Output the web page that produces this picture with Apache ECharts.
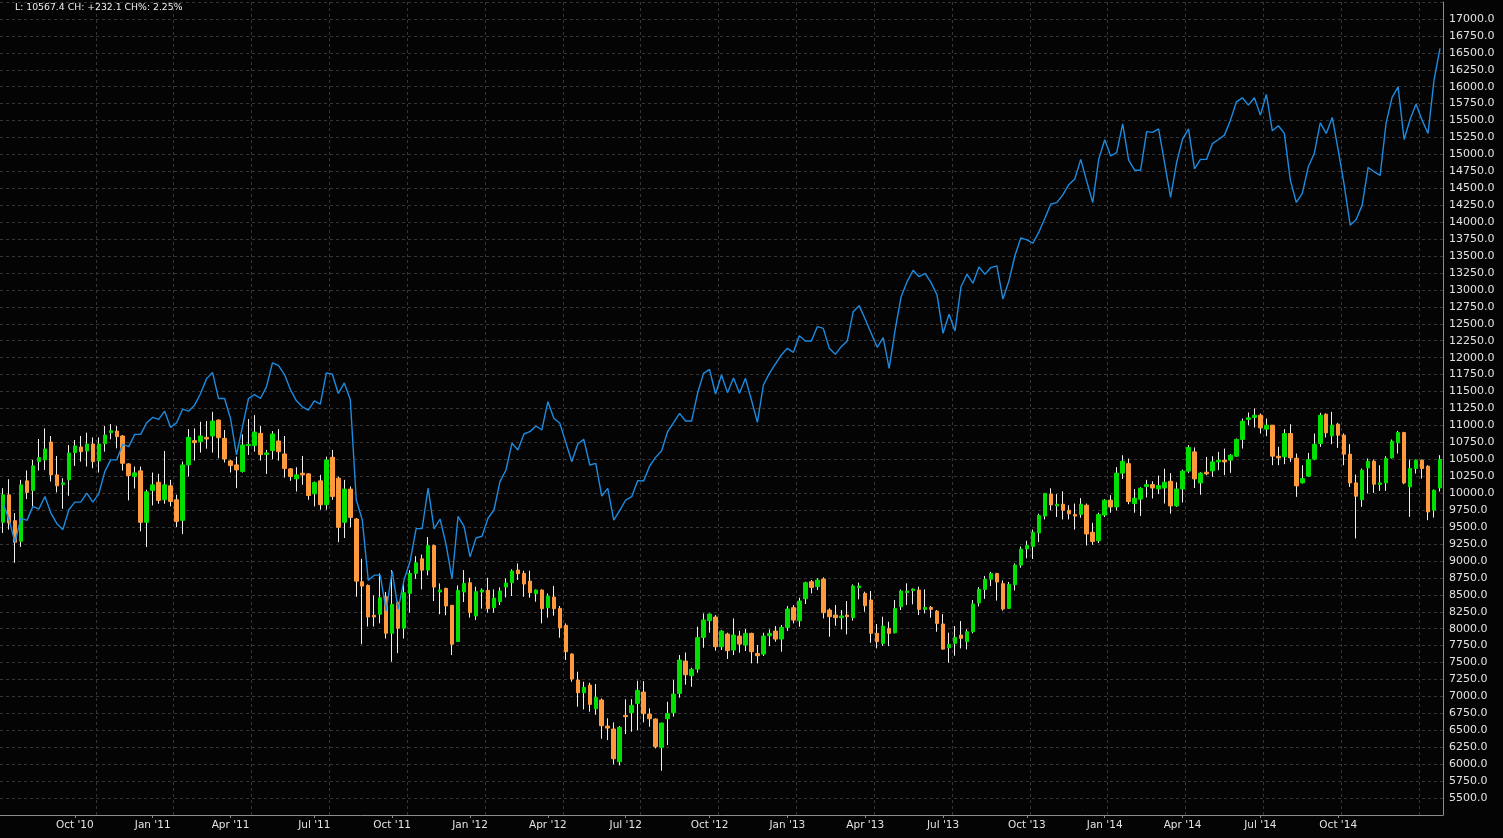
<!DOCTYPE html>
<html>
<head>
<meta charset="utf-8">
<script src="https://cdn.jsdelivr.net/npm/echarts@6/dist/echarts.min.js"></script>
<style>
html,body{margin:0;padding:0;background:#040404;}
#c{width:1503px;height:838px;}
</style>
</head>
<body>
<div id="c"></div>
<script>
// ---- data (weekly candles) ----
const opens = [
9570,9976,9594,9290,10182,10040,10466,10491,10755,10270,10128,10197,10599,10682,10623,10726,10476,10731,10893,10917,10844,10432,10246,10329,9570,10040,10162,9903,10109,9903,9599,10417,10775,10760,10824,10844,11079,10809,10476,10417,10319,10702,
10702,10883,10569,10628,10770,10579,10359,10212,10295,10285,9991,10182,9829,10530,10221,9570,10060,9619,8693,8639,8198,8212,8472,7933,8384,8007,8521,8815,9031,8864,9227,8541,8595,8345,7810,8541,8678,8188,8541,8565,
8310,8398,8615,8679,8866,8817,8703,8516,8570,8310,8467,8300,8049,7626,7242,7055,7168,6819,6947,6563,6519,6036,6720,6760,6897,7065,6740,6666,6248,6671,6760,7045,7522,7306,7404,7872,8118,8172,7734,7921,
7685,7891,7758,7931,7635,7625,7896,7965,7847,8019,8310,8118,8442,8693,8620,8733,8275,8201,8162,8201,8162,8605,8521,8423,7931,7783,8004,7940,8324,8531,8561,8570,8285,8315,8260,8069,7719,7783,7906,7808,7955,
8380,8580,8729,8814,8664,8300,8649,8939,9178,9213,9413,9663,9987,9812,9837,9747,9687,9687,9822,9423,9298,9677,9897,9797,10296,10436,9847,9912,10097,10127,10062,10077,10176,9812,10062,10326,10610,10151,10310,10329,
10462,10487,10487,10546,10792,11087,11117,11151,10945,11004,10546,10536,10881,10516,10152,10251,10502,10733,11166,10846,11018,10856,10576,10152,9906,10374,10472,10128,10152,10521,10743,10895,10093,10364,10487,10398,9749,10078
];
const closes = [
9976,9560,9276,10123,10011,10403,10525,10652,10270,10109,10153,10594,10697,10613,10726,10466,10726,10858,10922,10834,10442,10260,10300,9570,10020,10123,9893,10123,9878,9584,10417,10824,10746,10844,10800,11064,10819,10505,10407,10344,10711,10721,
10902,10569,10594,10873,10613,10363,10246,10270,10270,9966,10158,9829,10491,9952,9496,10060,9643,8702,8629,8173,8173,8457,7933,8359,8007,8531,8815,8972,8864,9227,8614,8570,8335,7771,8565,8668,8237,8546,8570,8296,
8452,8556,8674,8851,8812,8659,8531,8570,8295,8482,8295,8014,7660,7257,7055,7134,6883,6986,6568,6533,6080,6543,6701,6868,7089,6745,6671,6258,6607,6750,7035,7537,7320,7399,7867,8128,8216,7734,7965,7675,
7906,7773,7931,7660,7601,7891,7931,7847,8019,8290,8127,8408,8679,8610,8718,8236,8177,8162,8187,8177,8630,8630,8339,7931,7808,8039,7931,8300,8556,8556,8585,8285,8315,8285,8078,7699,7768,7872,7857,7955,8364,
8580,8729,8814,8689,8290,8655,8939,9174,9228,9423,9672,9997,9827,9837,9747,9697,9662,9837,9398,9288,9687,9897,9797,10296,10471,9877,9927,10072,10127,10077,10112,10161,9812,10062,10326,10675,10211,10296,10285,10462,
10487,10462,10561,10792,11063,11112,11151,10964,11004,10546,10521,10881,10521,10108,10216,10497,10723,11151,10890,11004,10856,10576,10152,9955,10339,10472,10133,10152,10512,10767,10895,10152,10364,10487,10364,9724,10044,10497
];
const lows = [
9413,9462,8972,9207,9913,9805,10334,10344,10172,10011,9770,9962,10403,10466,10393,10368,10305,10613,10795,10662,10334,9893,10069,9437,9207,9820,9844,9844,9805,9501,9398,10246,10481,10599,10657,10599,10515,10452,10305,10074,10305,10564,
10613,10481,10285,10501,10481,10231,10182,10025,10123,9903,9805,9756,9756,9903,9276,9339,9496,8472,7771,8031,8031,8080,7855,7512,7639,7855,8237,8737,8580,8786,8408,8212,8198,7610,7810,8394,8163,8129,8296,8237,
8236,8349,8462,8482,8718,8472,8457,8398,8078,8162,8192,7867,7537,7217,6848,6809,6774,6730,6376,6356,5997,5982,6445,6479,6504,6617,6553,6233,5903,6282,6701,6981,7173,7143,7350,7719,7941,7675,7685,7552,
7611,7645,7670,7488,7488,7596,7744,7808,7660,7965,8078,8029,8364,8521,8570,8152,7881,8044,7990,7916,8118,8433,8251,7793,7709,7749,7744,7931,8275,8349,8359,8201,8226,8162,7955,7694,7498,7601,7709,7694,7931,
8330,8440,8630,8415,8265,8290,8565,8899,9039,9029,9278,9613,9747,9648,9613,9613,9463,9638,9228,9238,9263,9648,9712,9747,10211,9837,9712,9662,9937,9922,9987,9847,9697,9797,9862,10296,10077,9977,10266,10241,
10339,10266,10300,10536,10659,11004,10969,10881,10841,10413,10413,10428,10462,9946,10143,10241,10487,10684,10822,10723,10669,10413,10093,9331,9798,9995,10004,10034,10034,10512,10585,10133,9650,10290,10216,9601,9640,10024
];
const highs = [
10074,10206,9707,10197,10334,10491,10800,10956,10844,10550,10221,10711,10785,10844,10893,10824,10824,10991,11020,10991,10858,10442,10393,10393,10050,10305,10285,10623,10197,9976,10466,10946,10956,11054,11064,11201,11089,10932,10491,10540,10868,11094,
11152,10991,10638,10917,10946,10844,10368,10383,10550,10295,10172,10270,10540,10638,10246,10197,10099,9633,9031,8653,8492,8815,8541,8864,8408,8678,8864,9070,9094,9354,9241,8668,8604,8345,8639,8864,8751,8619,8595,8751,
8580,8610,8743,8876,8964,8856,8856,8580,8580,8521,8630,8334,8078,7636,7365,7217,7203,7183,6971,6676,6617,6563,6957,6961,7232,7227,6824,6676,6612,6922,7242,7611,7650,7424,8029,8226,8226,8201,7980,7941,
8152,7970,7995,7940,7758,7940,7990,8039,8054,8334,8349,8457,8693,8718,8743,8757,8300,8349,8275,8408,8654,8679,8546,8556,8069,8177,8103,8423,8580,8669,8595,8620,8580,8334,8275,8216,7940,8039,8113,7990,8423,
8614,8779,8839,8824,8714,8689,8964,9213,9298,9463,9697,9997,10072,9987,10027,9822,9847,9927,9847,9563,9712,9912,9972,10386,10561,10511,10062,10087,10197,10176,10261,10361,10296,10161,10346,10710,10675,10311,10536,10546,
10610,10659,10576,10807,11102,11191,11250,11176,11102,11004,10684,10945,11018,10585,10413,10595,10881,11186,11176,11201,11038,10881,10723,10275,10364,10512,10497,10413,10546,10792,10920,10905,10497,10497,10497,10413,10054,10561
];
const compareLine = [
9854,9609,9276,9633,9599,9805,9766,9952,9707,9550,9462,9756,9868,9868,10001,9868,9991,10319,10491,10491,10721,10687,10868,10868,11040,11118,11089,11211,10971,11040,11240,11211,11299,11471,11691,11780,11397,11397,11103,10564,10981,11395,
11456,11397,11569,11922,11887,11755,11530,11363,11275,11226,11363,11314,11775,11755,11471,11628,11383,9903,9609,8717,8790,8790,8261,8849,8286,8727,8996,9477,9477,10074,9472,9619,9241,8737,9658,9511,9060,9339,9364,9630,
9752,10170,10342,10736,10637,10874,10908,10992,10933,11351,11105,11031,10746,10465,10726,10795,10416,10440,9958,10071,9604,9742,9899,9948,10185,10180,10401,10529,10627,10908,11041,11179,11065,11065,11474,11769,11828,11464,11745,11484,
11700,11474,11695,11375,11046,11597,11769,11907,12040,12138,12079,12325,12246,12246,12458,12433,12138,12049,12163,12246,12679,12768,12566,12360,12153,12296,11843,12409,12901,13122,13290,13196,13245,13108,12925,12360,12640,12394,13048,13231,13100,
13340,13230,13330,13355,12866,13131,13505,13769,13739,13689,13854,14054,14268,14288,14403,14553,14638,14927,14603,14288,14927,15216,14977,15027,15451,14917,14767,14767,15336,15326,15376,14877,14368,14877,15226,15376,14787,14927,14927,15160,
15221,15285,15506,15777,15836,15728,15836,15580,15885,15349,15423,15310,14621,14291,14424,14817,15014,15467,15310,15546,15063,14547,13956,14040,14252,14808,14744,14690,15467,15841,15998,15221,15516,15743,15506,15310,16097,16564
];
const quarterLabels = ["Oct '10","Jan '11","Apr '11","Jul '11","Oct '11","Jan '12","Apr '12","Jul '12","Oct '12","Jan '13","Apr '13","Jul '13","Oct '13","Jan '14","Apr '14","Jul '14","Oct '14"];
const quarterIndex  = [12,25,38,52,65,78,91,104,118,131,144,157,171,184,197,210,223];
const headerText = "L: 10567.4 CH: +232.1 CH%: 2.25%";

// ---- derived structures ----
const categories = opens.map((_, i) => 'W' + (i + 1));
const ohlc = opens.map((o, i) => [o, closes[i], lows[i], highs[i]]);
const bodies = opens.map((o, i) => [o, closes[i], Math.min(o, closes[i]), Math.max(o, closes[i])]);
const labelAt = {};
quarterIndex.forEach((idx, k) => { labelAt[idx] = quarterLabels[k]; });

const GRID_START = 16, GRID_STEP = 13;
const UP = '#00e000', DOWN = '#ff9a3c', WICK = '#f0f0f0';
const GRIDC = '#353535', AXISC = '#8c8c8c', TXT = '#e2e2e2';
const FONT = 'DejaVu Sans';

const chart = echarts.init(document.getElementById('c'));
chart.setOption({
  backgroundColor: '#040404',
  animation: false,
  title: {
    text: headerText, left: 15, top: 3, padding: 0,
    textStyle: { color: '#eeeeee', fontSize: 9.3, fontWeight: 'normal', fontFamily: FONT }
  },
  grid: { left: 0, right: 60, top: 2, bottom: 23, containLabel: false },
  xAxis: {
    type: 'category',
    data: categories,
    boundaryGap: true,
    axisLine: { show: true, lineStyle: { color: AXISC, width: 1 } },
    axisTick: {
      show: true, alignWithLabel: true, length: 3,
      interval: (i) => labelAt[i] !== undefined,
      lineStyle: { color: AXISC }
    },
    axisLabel: {
      interval: (i) => labelAt[i] !== undefined,
      formatter: (v, i) => labelAt[i] || '',
      color: TXT, fontSize: 10.5, fontFamily: FONT, margin: 5
    },
    splitLine: {
      show: true,
      interval: (i) => i >= GRID_START && (i - GRID_START) % GRID_STEP === 0,
      lineStyle: { color: GRIDC, type: [3, 3], width: 1 }
    }
  },
  yAxis: {
    type: 'value',
    position: 'right',
    min: 5250, max: 17250, interval: 250,
    axisLine: { show: true, lineStyle: { color: AXISC, width: 1 } },
    axisTick: { show: false },
    axisLabel: {
      formatter: (v) => (v <= 5250 || v >= 17250) ? '' : v.toFixed(1),
      color: TXT, fontSize: 11, fontFamily: FONT, margin: 6
    },
    splitLine: { show: true, lineStyle: { color: GRIDC, type: [3, 3], width: 1 } }
  },
  series: [
    {
      name: 'wicks', type: 'candlestick', data: ohlc, barWidth: 1,
      itemStyle: { color: WICK, color0: WICK, borderColor: WICK, borderColor0: WICK, borderWidth: 1 },
      emphasis: { disabled: true }, silent: true, z: 2
    },
    {
      name: 'bodies', type: 'candlestick', data: bodies, barWidth: 4,
      itemStyle: { color: UP, color0: DOWN, borderColor: UP, borderColor0: DOWN, borderWidth: 1 },
      emphasis: { disabled: true }, silent: true, z: 3
    },
    {
      name: 'compare', type: 'line', data: compareLine, showSymbol: false, symbol: 'none',
      lineStyle: { color: '#1d8be0', width: 1.4 }, z: 4, silent: true
    }
  ]
});
</script>
</body>
</html>
